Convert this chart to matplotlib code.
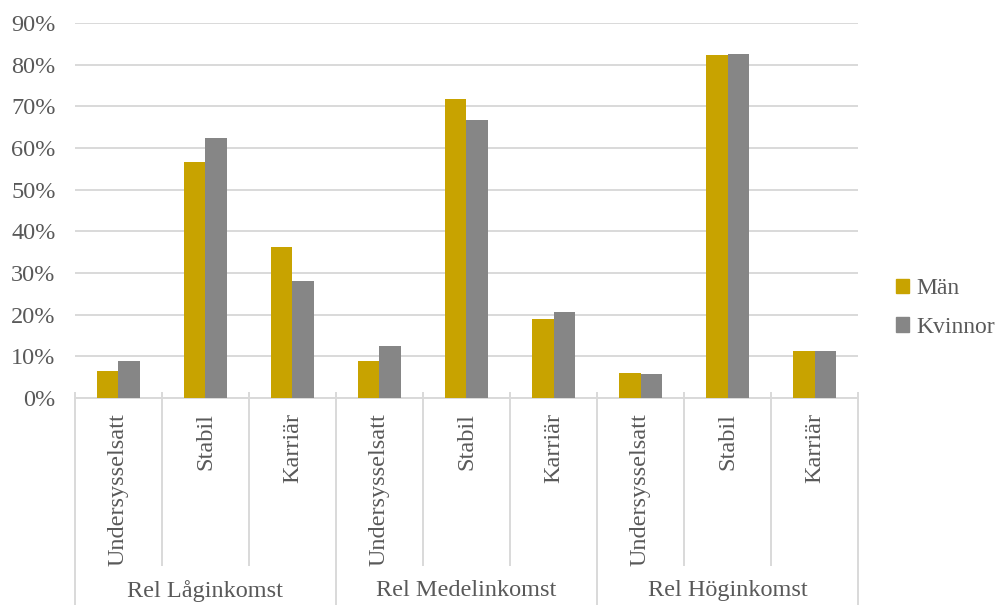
import numpy as np
import matplotlib.pyplot as plt
from matplotlib.patches import Patch

groups = ["Rel Låginkomst", "Rel Medelinkomst", "Rel Höginkomst"]
types = ["Undersysselsatt", "Stabil", "Karriär"]
man = [6.6, 56.6, 36.3, 8.8, 71.8, 18.9, 6.0, 82.4, 11.2]
kvinnor = [8.8, 62.5, 28.2, 12.4, 66.8, 20.6, 5.7, 82.6, 11.2]

plt.rcParams['font.family'] = 'Liberation Serif'
txt = '#595959'
grid = '#d9d9d9'
c_man = '#c8a300'
c_kv = '#868686'
fs = 17.5

fig = plt.figure(figsize=(9.97, 6.05), dpi=100)
ax = fig.add_axes([0.0752, 0.3421, 0.7854, 0.6199])

x = np.arange(len(man))
w = 0.25
ax.bar(x - w / 2, man, w, color=c_man, zorder=3)
ax.bar(x + w / 2, kvinnor, w, color=c_kv, zorder=3)

ax.set_xlim(-0.5, len(man) - 0.5)
ax.set_ylim(0, 90)
ax.set_yticks(np.arange(0, 91, 10))
ax.set_yticklabels([f"{v}%" for v in range(0, 91, 10)], fontsize=fs, color=txt)
ax.tick_params(axis='y', length=0, pad=14)
ax.tick_params(axis='x', length=0, labelbottom=False)
ax.grid(axis='y', color=grid, linewidth=1.4, zorder=0)
for s in ['top', 'right', 'left']:
    ax.spines[s].set_visible(False)
ax.spines['bottom'].set_color(grid)
ax.spines['bottom'].set_linewidth(1.4)

# category dividers below the axis (inner short, group borders long)
tr = ax.get_xaxis_transform()
for i in range(len(man) + 1):
    xb = i - 0.5
    bottom = -0.56 if i % 3 == 0 else -0.445
    ax.plot([xb, xb], [0.014, bottom], transform=tr, color=grid,
            linewidth=1.4, clip_on=False)

# rotated type labels
for i in range(len(man)):
    ax.text(i, -0.04, types[i % 3], transform=tr, rotation=90,
            ha='center', va='top', fontsize=fs, color=txt)

# group labels
for g, name in enumerate(groups):
    ax.text(g * 3 + 1, -0.514, name, transform=tr, ha='center',
            va='center', fontsize=fs, color=txt)

handles = [Patch(color=c_man), Patch(color=c_kv)]
fig.legend(handles, ["Män", "Kvinnor"], loc='center left',
           bbox_to_anchor=(0.899, 0.491), frameon=False, fontsize=17,
           labelcolor=txt, handlelength=0.55, handleheight=0.55,
           handletextpad=0.3, labelspacing=0.75, borderpad=0,
           borderaxespad=0)

fig.savefig("out.png", dpi=100)
